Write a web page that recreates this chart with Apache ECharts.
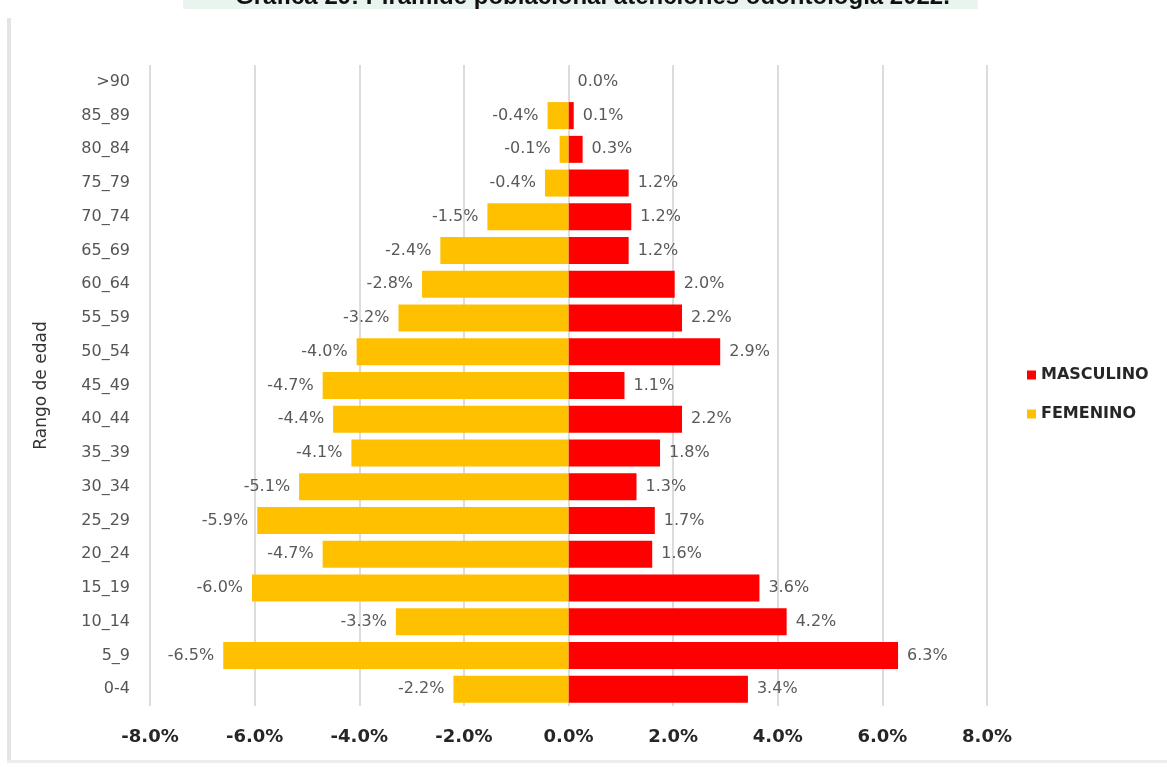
<!DOCTYPE html>
<html>
<head>
<meta charset="utf-8">
<script src="https://cdn.jsdelivr.net/npm/echarts@6/dist/echarts.min.js"></script>
<style>html,body{margin:0;padding:0;background:#fff}#c{width:1167px;height:767px}</style>
</head>
<body>
<div id="c"></div>
<script>
var categories = ['0-4','5_9','10_14','15_19','20_24','25_29','30_34','35_39','40_44','45_49','50_54','55_59','60_64','65_69','70_74','75_79','80_84','85_89','>90'];
var masculino = [3.43, 6.3, 4.17, 3.65, 1.6, 1.65, 1.3, 1.75, 2.17, 1.07, 2.9, 2.17, 2.03, 1.15, 1.2, 1.15, 0.27, 0.1, 0.0];
var femenino = [-2.2, -6.6, -3.3, -6.05, -4.7, -5.95, -5.15, -4.15, -4.5, -4.7, -4.05, -3.25, -2.8, -2.45, -1.55, -0.45, -0.17, -0.4, 0];
var masculinoLabels = ['3.4%','6.3%','4.2%','3.6%','1.6%','1.7%','1.3%','1.8%','2.2%','1.1%','2.9%','2.2%','2.0%','1.2%','1.2%','1.2%','0.3%','0.1%','0.0%'];
var femeninoLabels = ['-2.2%','-6.5%','-3.3%','-6.0%','-4.7%','-5.9%','-5.1%','-4.1%','-4.4%','-4.7%','-4.0%','-3.2%','-2.8%','-2.4%','-1.5%','-0.4%','-0.1%','-0.4%',''];

var FONT = 'DejaVu Sans, Liberation Sans, Arial';
var chart = echarts.init(document.getElementById('c'));
chart.setOption({
  animation: false,
  backgroundColor: '#fff',
  title: {
    text: 'Gráfica 29: Pirámide poblacional atenciones odontología 2022.',
    left: 183, top: -15,
    backgroundColor: '#eaf4ef',
    padding: [0, 28, 0, 52],
    textStyle: { fontFamily: 'Liberation Sans, Arial', fontSize: 24, fontWeight: 'bold', color: '#111', lineHeight: 24 }
  },
  graphic: [
    { type: 'rect', shape: { x: 7, y: 18, width: 4, height: 745 }, style: { fill: '#e4e4e4' }, silent: true },
    { type: 'rect', shape: { x: 7, y: 760, width: 1160, height: 3 }, style: { fill: '#ededed' }, silent: true }
  ],
  legend: {
    orient: 'vertical',
    left: 1022, top: 362,
    itemWidth: 9, itemHeight: 9, itemGap: 23,
    icon: 'rect',
    data: ['MASCULINO', 'FEMENINO'],
    textStyle: { fontFamily: FONT, fontSize: 16, fontWeight: 'bold', color: '#262626' }
  },
  grid: { left: 150, right: 180, top: 65, bottom: 61, containLabel: false },
  xAxis: {
    type: 'value', min: -8, max: 8, interval: 2,
    axisLine: { show: false }, axisTick: { show: false },
    splitLine: { show: true, lineStyle: { color: '#dcdcdc', width: 2 } },
    axisLabel: {
      margin: 22,
      fontFamily: FONT, fontSize: 18, fontWeight: 'bold', color: '#262626',
      formatter: function (v) { return v.toFixed(1) + '%'; }
    }
  },
  yAxis: {
    type: 'category', data: categories,
    name: 'Rango de edad', nameLocation: 'middle', nameGap: 100, nameRotate: 90,
    nameTextStyle: { fontFamily: FONT, fontSize: 17, color: '#333' },
    axisLine: { show: false }, axisTick: { show: false },
    axisLabel: { margin: 20, fontFamily: FONT, fontSize: 16, color: '#555' }
  },
  series: [
    {
      name: 'MASCULINO', type: 'bar', data: masculino, barGap: '-100%', barCategoryGap: '20%',
      itemStyle: { color: '#ff0000' },
      label: {
        show: true, position: 'right', distance: 9,
        fontFamily: FONT, fontSize: 16, color: '#595959',
        formatter: function (p) { return masculinoLabels[p.dataIndex]; }
      }
    },
    {
      name: 'FEMENINO', type: 'bar', data: femenino, barGap: '-100%', barCategoryGap: '20%',
      itemStyle: { color: '#ffc000' },
      label: {
        show: true, position: 'left', distance: 9,
        fontFamily: FONT, fontSize: 16, color: '#595959',
        formatter: function (p) { return femeninoLabels[p.dataIndex]; }
      }
    }
  ]
});
</script>
</body>
</html>
